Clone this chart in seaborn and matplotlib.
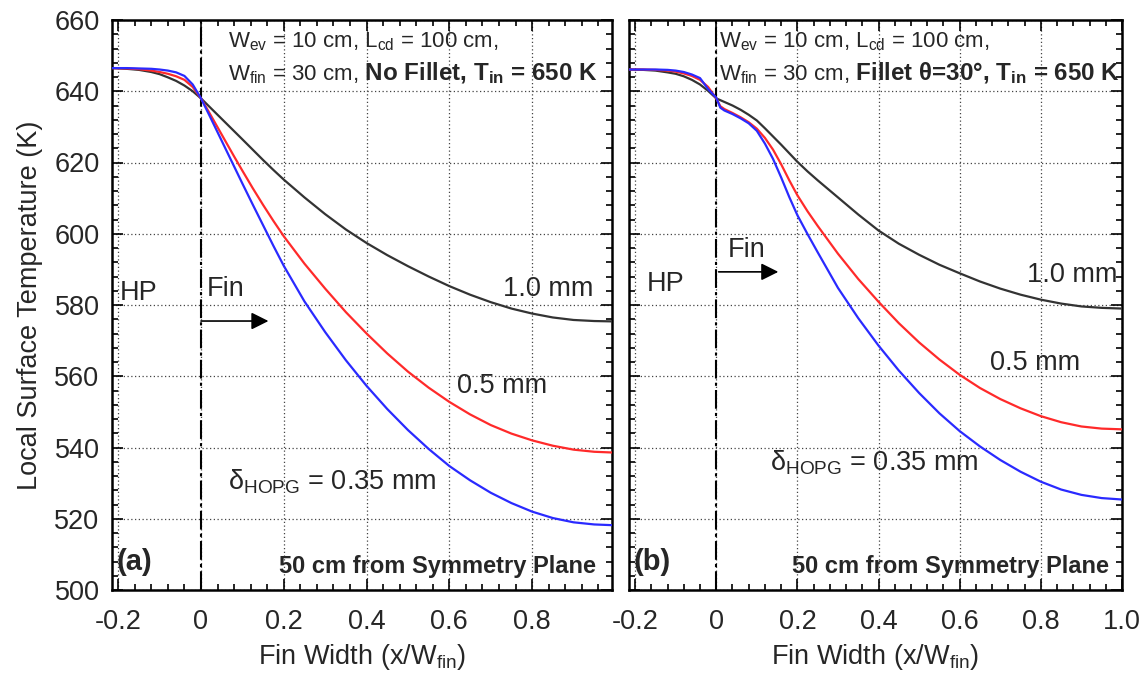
import matplotlib
matplotlib.use("Agg")
import matplotlib.pyplot as plt
from matplotlib.ticker import MultipleLocator
import pandas as pd
import seaborn as sns

# ---- panel (a): no fillet ----
x_a = [-0.215, -0.18, -0.15, -0.12, -0.10, -0.08, -0.06, -0.04, -0.02, 0.0, 0.02, 0.04,
       0.06, 0.08, 0.10, 0.125, 0.15, 0.175, 0.20, 0.25, 0.30, 0.35, 0.40, 0.45, 0.50,
       0.55, 0.60, 0.65, 0.70, 0.75, 0.80, 0.85, 0.90, 0.95, 0.993]
t_a_10 = [646.5, 646.3, 646.0, 645.4, 644.8, 643.9, 642.9, 641.6, 640.0, 638.0, 635.7, 633.4,
          631.1, 628.8, 626.5, 623.6, 620.7, 617.9, 615.2, 610.2, 605.5, 601.2, 597.4, 594.0,
          590.9, 588.0, 585.3, 582.9, 580.8, 579.0, 577.6, 576.5, 575.8, 575.5, 575.4]
t_a_05 = [646.5, 646.4, 646.2, 645.8, 645.4, 644.9, 644.2, 643.2, 641.2, 638.0, 634.0, 629.9,
          625.8, 621.7, 617.7, 612.8, 608.1, 603.6, 599.3, 591.6, 584.6, 578.0, 572.0, 566.4,
          561.3, 556.8, 552.8, 549.3, 546.3, 543.9, 542.0, 540.5, 539.4, 538.8, 538.6]
t_a_035 = [646.5, 646.5, 646.4, 646.3, 646.1, 645.8, 645.3, 644.3, 641.9, 638.0, 633.3, 628.5,
           623.7, 618.9, 614.1, 608.2, 602.4, 596.6, 591.0, 581.0, 572.4, 564.5, 557.3, 550.8,
           544.9, 539.6, 534.8, 530.8, 527.3, 524.4, 522.0, 520.2, 519.0, 518.4, 518.2]

# ---- panel (b): fillet theta = 30 deg ----
x_b = [-0.215, -0.18, -0.15, -0.12, -0.10, -0.08, -0.06, -0.04, -0.02, 0.0, 0.01, 0.02,
       0.04, 0.06, 0.08, 0.10, 0.12, 0.14, 0.16, 0.18, 0.20, 0.225, 0.25, 0.30, 0.35, 0.40,
       0.45, 0.50, 0.55, 0.60, 0.65, 0.70, 0.75, 0.80, 0.85, 0.90, 0.95, 1.0]
t_b_10 = [646.1, 646.0, 645.8, 645.3, 644.9, 644.2, 643.2, 641.9, 640.1, 638.0, 637.5, 637.0,
          636.0, 634.8, 633.4, 631.8, 629.6, 627.3, 625.0, 622.6, 620.2, 617.5, 615.0, 610.2,
          605.4, 600.9, 597.2, 594.1, 591.3, 588.9, 586.6, 584.6, 582.9, 581.5, 580.4, 579.6,
          579.2, 579.0]
t_b_05 = [646.1, 646.1, 646.0, 645.8, 645.5, 645.0, 644.3, 643.2, 641.2, 638.0, 635.8, 635.0,
          633.9, 632.7, 631.3, 629.5, 626.9, 623.6, 619.5, 615.0, 610.8, 606.3, 602.2, 594.4,
          587.3, 580.9, 574.9, 569.5, 564.7, 560.4, 556.7, 553.6, 551.0, 548.8, 547.1, 545.9,
          545.3, 545.1]
t_b_035 = [646.1, 646.1, 646.1, 646.0, 645.8, 645.4, 644.7, 643.7, 640.6, 638.2, 635.4, 634.6,
           633.6, 632.4, 631.0, 628.9, 625.3, 621.0, 615.8, 610.3, 605.2, 599.9, 594.8, 584.8,
           576.3, 568.6, 561.6, 555.3, 549.6, 544.6, 540.3, 536.5, 533.2, 530.4, 528.2, 526.7,
           525.8, 525.4]

thickness_labels = ["1.0 mm", "0.5 mm", "0.35 mm"]
line_colors = {"1.0 mm": "#333333", "0.5 mm": "#ff2a2a", "0.35 mm": "#2a2aff"}

x_ticks = [-0.2, 0, 0.2, 0.4, 0.6, 0.8, 1.0]
x_tick_text = ["-0.2", "0", "0.2", "0.4", "0.6", "0.8", "1.0"]
y_ticks = [500, 520, 540, 560, 580, 600, 620, 640, 660]


def long_frame(x, series):
    rows = []
    for name, vals in zip(thickness_labels, series):
        rows.append(pd.DataFrame({"x": x, "T": vals, "delta": name}))
    return pd.concat(rows, ignore_index=True)


df_a = long_frame(x_a, [t_a_10, t_a_05, t_a_035])
df_b = long_frame(x_b, [t_b_10, t_b_05, t_b_035])

sns.set_theme(style="white")
plt.rcParams["font.family"] = ["Liberation Sans", "DejaVu Sans"]
plt.rcParams["mathtext.fontset"] = "custom"
plt.rcParams["mathtext.rm"] = "Liberation Sans"
plt.rcParams["mathtext.bf"] = "Liberation Sans:bold"
plt.rcParams["mathtext.it"] = "Liberation Sans:italic"

W, H = 1146, 675
fig = plt.figure(figsize=(W / 100, H / 100), dpi=100)
ax_a = fig.add_axes([112 / W, (H - 590) / H, 500 / W, 570 / H])
ax_b = fig.add_axes([629 / W, (H - 590) / H, 493 / W, 570 / H])

FS_TICK = 19.5
FS_LBL = 19.5
FS_TXT = 19.5
FS_BOX = 16
FS_BOX_B = 17.4


def style_axes(ax, xmax, show_y):
    ax.set_xlim(-0.215, xmax)
    ax.set_ylim(500, 660)
    ax.set_xticks([t for t in x_ticks if t <= xmax + 1e-9])
    ax.set_xticklabels([s for t, s in zip(x_ticks, x_tick_text) if t <= xmax + 1e-9])
    ax.set_yticks(y_ticks)
    ax.xaxis.set_minor_locator(MultipleLocator(0.04))
    ax.yaxis.set_minor_locator(MultipleLocator(4))
    ax.tick_params(which="both", direction="in", top=True, right=True,
                   bottom=True, left=True, color="black", width=1.2)
    ax.tick_params(which="major", length=8, labelsize=FS_TICK)
    ax.tick_params(axis="x", which="major", pad=14)
    ax.tick_params(axis="y", which="major", pad=9)
    ax.tick_params(which="minor", length=4.5)
    if not show_y:
        ax.tick_params(axis="y", labelleft=False)
    for sp in ax.spines.values():
        sp.set_color("black")
        sp.set_linewidth(1.8)
    ax.grid(True, which="major", color="#444444", linestyle=(0, (1, 2)), linewidth=0.9)
    ax.axvline(0, color="black", linewidth=1.5, linestyle=(0, (9, 2, 1.5, 2)), zorder=3)
    ax.set_xlabel(r"Fin Width (x/W$_{\mathrm{fin}}$)", fontsize=FS_LBL, labelpad=5)


for ax, df, xmax in [(ax_a, df_a, 0.993), (ax_b, df_b, 1.0)]:
    sns.lineplot(data=df, x="x", y="T", hue="delta", palette=line_colors,
                 hue_order=thickness_labels, linewidth=1.6, legend=False, ax=ax,
                 sort=False, zorder=4)
    style_axes(ax, xmax, show_y=(ax is ax_a))

ax_a.set_ylabel("Local Surface Temperature (K)", fontsize=FS_LBL, labelpad=8)
ax_b.set_ylabel("")

arrow_style = dict(arrowstyle="-|>", color="black", lw=1.2, mutation_scale=26,
                   shrinkA=0, shrinkB=0)


def header(ax, x0, bold_part):
    ax.text(x0, 653.8, r"W$_{\mathrm{ev}}$ = 10 cm, L$_{\mathrm{cd}}$ = 100 cm,",
            fontsize=FS_BOX, va="center", ha="left")
    t = ax.text(x0, 644.6, r"W$_{\mathrm{fin}}$ = 30 cm,", fontsize=FS_BOX,
                va="center", ha="left")
    ax.annotate(bold_part, xy=(1, 0), xycoords=t, va="bottom", ha="left",
                fontsize=FS_BOX_B, fontweight="bold")


# panel (a) annotations
header(ax_a, 0.065, r" No Fillet, T$_{\mathbf{in}}$ = 650 K")
ax_a.text(-0.15, 583.5, "HP", fontsize=FS_TXT, ha="center", va="center")
ax_a.text(0.06, 584.5, "Fin", fontsize=FS_TXT, ha="center", va="center")
ax_a.annotate("", xy=(0.163, 575.5), xytext=(0.0, 575.5), arrowprops=arrow_style)
ax_a.text(0.839, 584.5, "1.0 mm", fontsize=FS_TXT, ha="center", va="center")
ax_a.text(0.727, 557.2, "0.5 mm", fontsize=FS_TXT, ha="center", va="center")
ax_a.text(0.065, 530.5, r"δ$_{\mathrm{HOPG}}$ = 0.35 mm", fontsize=FS_TXT,
          ha="left", va="center")
ax_a.text(-0.205, 508.0, "(a)", fontsize=21, fontweight="bold", ha="left", va="center")
ax_a.text(0.955, 506.5, "50 cm from Symmetry Plane", fontsize=17, fontweight="bold",
          ha="right", va="center")

# panel (b) annotations
header(ax_b, 0.006, r" Fillet θ=30°, T$_{\mathbf{in}}$ = 650 K")
ax_b.text(-0.126, 586.0, "HP", fontsize=FS_TXT, ha="center", va="center")
ax_b.text(0.076, 595.4, "Fin", fontsize=FS_TXT, ha="center", va="center")
ax_b.annotate("", xy=(0.153, 589.3), xytext=(0.006, 589.3), arrowprops=arrow_style)
ax_b.text(0.878, 588.4, "1.0 mm", fontsize=FS_TXT, ha="center", va="center")
ax_b.text(0.786, 563.6, "0.5 mm", fontsize=FS_TXT, ha="center", va="center")
ax_b.text(0.133, 535.6, r"δ$_{\mathrm{HOPG}}$ = 0.35 mm", fontsize=FS_TXT,
          ha="left", va="center")
ax_b.text(-0.205, 508.0, "(b)", fontsize=21, fontweight="bold", ha="left", va="center")
ax_b.text(0.968, 506.5, "50 cm from Symmetry Plane", fontsize=17, fontweight="bold",
          ha="right", va="center")

fig.savefig("out.png", dpi=100, facecolor="white")
